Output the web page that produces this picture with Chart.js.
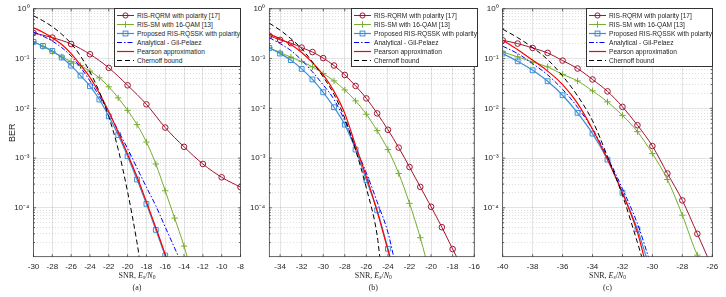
<!DOCTYPE html>
<html>
<head>
<meta charset="utf-8">
<script src="https://cdn.jsdelivr.net/npm/chart.js@4.4.1/dist/chart.umd.min.js"></script>
<style>
body { margin: 0; background: #fff; }
#fig { position: relative; width: 726px; height: 297px; overflow: hidden; font-family: "Liberation Sans", Arial, sans-serif; }
#fig canvas { position: absolute; top: 0; }
.legend { position: absolute; top: 8px; background: #fff; border: 0.8px solid #333; box-sizing: border-box; padding: 1.5px 0; font-size: 6.6px; color: #262626; }
.legend .row { height: 9px; display: flex; align-items: center; white-space: nowrap; }
.legend svg { margin-left: 2px; margin-right: 3px; flex: none; }
.xl { position: absolute; font-family: "Liberation Serif", "DejaVu Serif", serif; font-size: 8px; color: #262626; transform: translateX(-50%); white-space: nowrap; line-height: 1; }
.xl sub { font-size: 70%; vertical-align: -1px; line-height: 0; }
</style>
</head>
<body>
<div id="fig">
  <canvas id="chartA" width="250" height="297" style="left:0px"></canvas>
  <canvas id="chartB" width="240" height="297" style="left:245px"></canvas>
  <canvas id="chartC" width="244" height="297" style="left:482px"></canvas>
</div>
<script>
// axis limits and ticks
var YMIN = 1.04e-5, YMAX = 1;
var Y_MAJOR = [1e-4, 1e-3, 1e-2, 1e-1, 1];
var Y_LABELS = ['10\u207B\u2074', '10\u207B\u00B3', '10\u207B\u00B2', '10\u207B\u00B9', '10\u2070'];
var X_TICKS_A = [-30, -28, -26, -24, -22, -20, -18, -16, -14, -12, -10, -8];
var X_TICKS_B = [-34, -32, -30, -28, -26, -24, -22, -20, -18, -16];
var X_TICKS_C = [-40, -38, -36, -34, -32, -30, -28, -26];

var LABELS = ['RIS-RQRM with polarity [17]', 'RIS-SM with 16-QAM [13]', 'Proposed RIS-RQSSK with polarity',
              'Analytical - Gil-Pelaez', 'Pearson approximation', 'Chernoff bound'];

// ---- panel (a) ----
var A_RQRM_SNR = [-30, -28, -26, -24, -22, -20, -18, -16, -14, -12, -10, -8];
var A_RQRM_BER = [0.327, 0.264, 0.196, 0.122, 0.065, 0.029, 0.012, 0.0041, 0.00168, 7.6e-4, 4.1e-4, 2.6e-4];
var A_SM_SNR = [-30, -29, -28, -27, -26, -25, -24, -23, -22, -21, -20, -19, -18, -17, -16, -15, -14, -13.65];
var A_SM_BER = [0.219, 0.174, 0.138, 0.108, 0.087, 0.072, 0.056, 0.041, 0.027, 0.0162, 0.0091, 0.0047, 0.0021, 7.6e-4, 2.2e-4, 6.2e-5, 1.7e-5, 1.0e-5];
var A_SQ_SNR = [-30, -29, -28, -27, -26, -25, -24, -23, -22, -21, -20, -19, -18, -17, -16, -15.9];
var A_SQ_BER = [0.216, 0.179, 0.142, 0.105, 0.072, 0.0455, 0.0278, 0.015, 0.0069, 0.0029, 0.00109, 3.7e-4, 1.2e-4, 3.6e-5, 1.1e-5, 1.0e-5];
var A_AN_SNR = [-30, -29, -28, -27, -26, -25, -24, -23, -22, -21, -20, -19, -18, -17, -16, -15, -14.55];
var A_AN_BER = [0.342, 0.282, 0.224, 0.166, 0.112, 0.066, 0.0355, 0.0174, 0.0083, 0.00355, 0.00155, 6.3e-4, 2.6e-4, 1.1e-4, 4.1e-5, 1.55e-5, 1.0e-5];
var A_PE_SNR = [-30, -29, -28, -27, -26, -25, -24, -23, -22, -21, -20, -19, -18, -17, -16, -15.9];
var A_PE_BER = [0.417, 0.339, 0.263, 0.191, 0.126, 0.074, 0.0417, 0.02, 0.0085, 0.0033, 0.0012, 4.2e-4, 1.32e-4, 4.0e-5, 1.15e-5, 1.0e-5];
var A_CH_SNR = [-30, -29, -28, -27, -26, -25, -24, -23, -22, -21, -20, -19, -18.75];
var A_CH_BER = [0.724, 0.575, 0.437, 0.309, 0.2, 0.112, 0.0537, 0.0214, 0.0068, 0.0015, 2.1e-4, 2.0e-5, 1.0e-5];

// ---- panel (b) ----
var B_RQRM_SNR = [-35, -34, -33, -32, -31, -30, -29, -28, -27, -26, -25, -24, -23, -22, -21, -20, -19, -18, -17.6];
var B_RQRM_BER = [0.288, 0.237, 0.204, 0.166, 0.135, 0.102, 0.0724, 0.0468, 0.0282, 0.0158, 0.0079, 0.0037, 0.00162, 6.6e-4, 2.63e-4, 1.05e-4, 4.07e-5, 1.48e-5, 1.0e-5];
var B_SM_SNR = [-35, -34, -33, -32, -31, -30, -29, -28, -27, -26, -25, -24, -23, -22, -21, -20.5];
var B_SM_BER = [0.166, 0.132, 0.107, 0.087, 0.068, 0.05, 0.0355, 0.0234, 0.0141, 0.0076, 0.00355, 0.00148, 4.9e-4, 1.23e-4, 2.5e-5, 1.0e-5];
var B_SQ_SNR = [-35, -34, -33, -32, -31, -30, -29, -28, -27, -26, -25, -24, -23.8];
var B_SQ_BER = [0.163, 0.126, 0.093, 0.062, 0.038, 0.021, 0.0105, 0.0047, 0.00148, 3.6e-4, 8.9e-5, 1.5e-5, 1.0e-5];
var B_AN_SNR = [-35, -34, -33, -32, -31, -30, -29, -28, -27, -26, -25, -24, -23.45];
var B_AN_BER = [0.263, 0.2, 0.145, 0.093, 0.054, 0.0295, 0.0151, 0.0056, 0.00166, 5.0e-4, 1.32e-4, 3.2e-5, 1.0e-5];
var B_PE_SNR = [-35, -34, -33, -32, -31, -30, -29, -28, -27, -26, -25, -24, -23.8];
var B_PE_BER = [0.309, 0.251, 0.191, 0.132, 0.083, 0.0468, 0.0219, 0.0079, 0.00178, 4.2e-4, 8.5e-5, 1.41e-5, 1.0e-5];
var B_CH_SNR = [-35, -34, -33, -32, -31, -30, -29, -28, -27, -26, -25, -24.75];
var B_CH_BER = [0.513, 0.372, 0.251, 0.158, 0.085, 0.0427, 0.019, 0.0063, 0.00145, 2.5e-4, 2.8e-5, 1.0e-5];

// ---- panel (c) ----
var C_RQRM_SNR = [-40, -39, -38, -37, -36, -35, -34, -33, -32, -31, -30, -29, -28, -27, -26.3];
var C_RQRM_BER = [0.233, 0.2, 0.163, 0.13, 0.091, 0.063, 0.038, 0.0219, 0.0107, 0.00457, 0.00174, 4.9e-4, 1.41e-4, 3.0e-5, 1.0e-5];
var C_SM_SNR = [-40, -39, -38, -37, -36, -35, -34, -33, -32, -31, -30, -29, -28, -27, -26.9];
var C_SM_BER = [0.136, 0.108, 0.085, 0.068, 0.048, 0.0355, 0.0224, 0.0135, 0.0072, 0.0034, 0.00123, 3.7e-4, 7.1e-5, 1.12e-5, 1.0e-5];
var C_SQ_SNR = [-40, -39, -38, -37, -36, -35, -34, -33, -32, -31, -30.4];
var C_SQ_BER = [0.126, 0.088, 0.058, 0.035, 0.0183, 0.0081, 0.0031, 9.3e-4, 2.0e-4, 3.7e-5, 1.0e-5];
var C_AN_SNR = [-40, -39, -38, -37, -36, -35, -34, -33, -32, -31, -30.25];
var C_AN_BER = [0.177, 0.126, 0.079, 0.047, 0.024, 0.0105, 0.0038, 0.00105, 2.4e-4, 4.8e-5, 1.0e-5];
var C_PE_SNR = [-40, -39, -38, -37, -36, -35, -34, -33, -32, -31, -30.55];
var C_PE_BER = [0.234, 0.151, 0.093, 0.056, 0.03, 0.0126, 0.0038, 9.5e-4, 2.0e-4, 3.2e-5, 1.0e-5];
var C_CH_SNR = [-40, -39, -38, -37, -36, -35, -34, -33, -32, -31, -30.7];
var C_CH_BER = [0.389, 0.263, 0.166, 0.0955, 0.0447, 0.0178, 0.0056, 0.00107, 1.78e-4, 2.0e-5, 1.0e-5];

// line styles, same order as LABELS
var STYLES = [
    { color: '#a2142f', marker: 'circle', r: 2.8, dash: [], width: 1 },
    { color: '#77ac30', marker: 'cross', r: 3.2, dash: [], width: 1 },
    { color: '#3b8fd6', marker: 'rect', r: 3.4, dash: [], width: 1.2 },
    { color: '#0000ff', marker: null, r: 0, dash: [5, 2, 1.5, 2], width: 1 },
    { color: '#ff0000', marker: null, r: 0, dash: [], width: 1.2 },
    { color: '#000000', marker: null, r: 0, dash: [5, 3], width: 1 }
];

var FONT = "'Liberation Sans', Arial, sans-serif";

function toPoints(snr, ber) {
    return snr.map(function (x, i) { return { x: x, y: ber[i] }; });
}

function isMajor(v) {
    return Y_MAJOR.some(function (m) { return Math.abs(v / m - 1) < 1e-6; });
}

function yTicks() {
    var t = [];
    Y_MAJOR.forEach(function (m) {
        for (var k = 1; k <= 9; k++) {
            var v = k * m / 10;
            if (v >= YMIN && v <= YMAX) t.push({ value: v });
        }
    });
    t.push({ value: YMAX });
    return t;
}

// box around plot + inward ticks (MATLAB style)
var boxPlugin = {
    id: 'box',
    afterDraw: function (chart) {
        var a = chart.chartArea, ctx = chart.ctx;
        var xs = chart.scales.x, ys = chart.scales.y;
        ctx.save();
        ctx.strokeStyle = '#262626';
        ctx.lineWidth = 0.7;
        ctx.beginPath();
        xs.ticks.forEach(function (t) {
            var px = xs.getPixelForValue(t.value);
            ctx.moveTo(px, a.bottom); ctx.lineTo(px, a.bottom - 2.5);
            ctx.moveTo(px, a.top); ctx.lineTo(px, a.top + 2.5);
        });
        ys.ticks.forEach(function (t) {
            var py = ys.getPixelForValue(t.value);
            var len = isMajor(t.value) ? 2.5 : 1.5;
            ctx.moveTo(a.left, py); ctx.lineTo(a.left + len, py);
            ctx.moveTo(a.right, py); ctx.lineTo(a.right - len, py);
        });
        ctx.stroke();
        ctx.strokeRect(a.left, a.top, a.right - a.left, a.bottom - a.top);
        ctx.restore();
    }
};

function makePanel(id, cfg) {
    var datasets = cfg.series.map(function (s, i) {
        var st = STYLES[i];
        return {
            label: LABELS[i],
            data: toPoints(s[0], s[1]),
            borderColor: st.color,
            borderWidth: st.width,
            borderDash: st.dash,
            backgroundColor: 'rgba(0,0,0,0)',
            pointStyle: st.marker || 'circle',
            pointBorderColor: st.color,
            pointBackgroundColor: 'rgba(0,0,0,0)',
            pointBorderWidth: 1,
            pointRadius: function (c) {
                if (!st.marker || !c.raw) return 0;
                return c.raw.y >= YMIN ? st.r : 0;
            },
            cubicInterpolationMode: 'monotone',
            fill: false,
            order: 5 - i
        };
    });

    new Chart(document.getElementById(id), {
        type: 'line',
        data: { datasets: datasets },
        options: {
            responsive: false,
            animation: false,
            layout: { padding: { left: 0, right: cfg.padRight, top: 8.5, bottom: 0 } },
            plugins: { legend: { display: false }, tooltip: { enabled: false } },
            scales: {
                x: {
                    type: 'linear',
                    min: cfg.xmin,
                    max: cfg.xmax,
                    afterBuildTicks: function (s) { s.ticks = cfg.xticks.map(function (v) { return { value: v }; }); },
                    afterFit: function (s) { s.height = 40.3; },
                    ticks: { callback: function (v) { return String(v); }, font: { family: FONT, size: 8 }, color: '#262626', padding: 5, maxRotation: 0, autoSkip: false },
                    grid: { color: 'rgba(0,0,0,0.14)', lineWidth: 0.8, drawTicks: false },
                    border: { display: false }
                },
                y: {
                    type: 'logarithmic',
                    min: YMIN,
                    max: YMAX,
                    afterBuildTicks: function (s) { s.ticks = yTicks(); },
                    afterFit: function (s) { s.width = cfg.yWidth; },
                    ticks: {
                        callback: function (v) {
                            for (var i = 0; i < Y_MAJOR.length; i++) {
                                if (Math.abs(v / Y_MAJOR[i] - 1) < 1e-6) return Y_LABELS[i];
                            }
                            return '';
                        },
                        font: { family: FONT, size: 8 }, color: '#262626', padding: 4, autoSkip: false
                    },
                    grid: {
                        color: function (c) { return c.tick && isMajor(c.tick.value) ? 'rgba(0,0,0,0.14)' : 'rgba(0,0,0,0.16)'; },
                        lineWidth: 0.8,
                        drawTicks: false
                    },
                    border: {
                        display: false,
                        dash: function (c) { return c.tick && isMajor(c.tick.value) ? [] : [1, 2]; }
                    },
                    title: { display: !!cfg.yTitle, text: cfg.yTitle || '', font: { family: FONT, size: 9 }, color: '#262626', padding: { top: 7, bottom: 0 } }
                }
            }
        },
        plugins: [boxPlugin]
    });

    // legend box inside the axes, top right
    var fig = document.getElementById('fig');
    var lg = document.createElement('div');
    lg.className = 'legend';
    lg.style.left = cfg.legendLeft + 'px';
    lg.style.width = cfg.legendWidth + 'px';
    LABELS.forEach(function (txt, i) {
        var st = STYLES[i];
        var svg = '<svg width="17" height="9" viewBox="0 0 17 9">' +
            '<line x1="0" y1="4.5" x2="17" y2="4.5" stroke="' + st.color + '" stroke-width="' + st.width + '"' +
            (st.dash.length ? ' stroke-dasharray="' + st.dash.join(',') + '"' : '') + '/>';
        if (st.marker === 'circle') svg += '<circle cx="8.5" cy="4.5" r="2.6" fill="none" stroke="' + st.color + '"/>';
        if (st.marker === 'rect') svg += '<rect x="6.1" y="2.1" width="4.8" height="4.8" fill="none" stroke="' + st.color + '"/>';
        if (st.marker === 'cross') svg += '<line x1="8.5" y1="1.3" x2="8.5" y2="7.7" stroke="' + st.color + '"/>';
        svg += '</svg>';
        var row = document.createElement('div');
        row.className = 'row';
        row.innerHTML = svg + '<span></span>';
        row.lastChild.textContent = txt;
        lg.appendChild(row);
    });
    fig.appendChild(lg);

    var xl = document.createElement('div');
    xl.className = 'xl';
    xl.style.left = cfg.center + 'px';
    xl.style.top = '272px';
    xl.innerHTML = 'SNR, <i>E</i><sub><i>s</i></sub>/<i>N</i><sub>0</sub>';
    fig.appendChild(xl);

    var cap = document.createElement('div');
    cap.className = 'xl';
    cap.style.left = cfg.center + 'px';
    cap.style.top = '284px';
    cap.textContent = cfg.caption;
    fig.appendChild(cap);
}

makePanel('chartA', {
    xmin: -30, xmax: -8, xticks: X_TICKS_A, yWidth: 33.5, padRight: 9.5, yTitle: 'BER',
    legendLeft: 114, legendWidth: 127, center: 137, caption: '(a)',
    series: [[A_RQRM_SNR, A_RQRM_BER], [A_SM_SNR, A_SM_BER], [A_SQ_SNR, A_SQ_BER],
             [A_AN_SNR, A_AN_BER], [A_PE_SNR, A_PE_BER], [A_CH_SNR, A_CH_BER]]
});
makePanel('chartB', {
    xmin: -35, xmax: -16, xticks: X_TICKS_B, yWidth: 24.3, padRight: 7.7,
    legendLeft: 351, legendWidth: 126.5, center: 373.3, caption: '(b)',
    series: [[B_RQRM_SNR, B_RQRM_BER], [B_SM_SNR, B_SM_BER], [B_SQ_SNR, B_SQ_BER],
             [B_AN_SNR, B_AN_BER], [B_PE_SNR, B_PE_BER], [B_CH_SNR, B_CH_BER]]
});
makePanel('chartC', {
    xmin: -40, xmax: -26, xticks: X_TICKS_C, yWidth: 20.7, padRight: 13.7,
    legendLeft: 586, legendWidth: 126.5, center: 607.5, caption: '(c)',
    series: [[C_RQRM_SNR, C_RQRM_BER], [C_SM_SNR, C_SM_BER], [C_SQ_SNR, C_SQ_BER],
             [C_AN_SNR, C_AN_BER], [C_PE_SNR, C_PE_BER], [C_CH_SNR, C_CH_BER]]
});
</script>
</body>
</html>
